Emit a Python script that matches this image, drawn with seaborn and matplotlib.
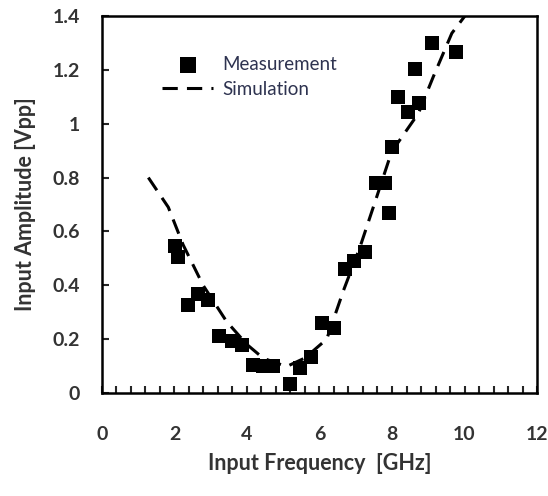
import numpy as np
import pandas as pd
import seaborn as sns
import matplotlib.pyplot as plt
from matplotlib.ticker import MultipleLocator, FuncFormatter

# Measured points
meas_freq = [2.01, 2.09, 2.38, 2.66, 2.93, 3.24, 3.60, 3.85, 4.17, 4.45, 4.73,
             5.19, 5.46, 5.76, 6.06, 6.40, 6.70, 6.96, 7.26, 7.56, 7.81, 7.93,
             7.99, 8.17, 8.45, 8.75, 8.63, 9.09, 9.77]
meas_amp = [0.547, 0.506, 0.327, 0.368, 0.345, 0.212, 0.194, 0.178, 0.104, 0.101, 0.101,
            0.033, 0.092, 0.135, 0.261, 0.240, 0.459, 0.490, 0.522, 0.781, 0.781, 0.667,
            0.915, 1.100, 1.045, 1.078, 1.202, 1.301, 1.268]

# Simulated curve
sim_freq = [1.28, 1.83, 2.24, 2.79, 3.44, 4.0, 4.45, 5.09, 5.6, 6.2, 6.66, 7.12,
            7.58, 7.99, 8.73, 9.14, 9.65, 10.01]
sim_amp = [0.80, 0.69, 0.55, 0.40, 0.265, 0.18, 0.129, 0.098, 0.13, 0.20, 0.38, 0.543,
           0.729, 0.896, 1.039, 1.175, 1.336, 1.40]

df_meas = pd.DataFrame({'freq': meas_freq, 'amp': meas_amp})
df_sim = pd.DataFrame({'freq': sim_freq, 'amp': sim_amp})

sns.set_style('white')
plt.rcParams['font.family'] = ['Lato', 'DejaVu Sans']

fig = plt.figure(figsize=(5.48, 4.96), dpi=100)
ax = fig.add_axes([0.186, 0.2077, 0.794, 0.76])

sns.lineplot(data=df_sim, x='freq', y='amp', ax=ax, color='black', linewidth=2.2,
             label='Simulation', sort=False, estimator=None)
ax.lines[0].set_dashes((5, 3))
sns.scatterplot(data=df_meas, x='freq', y='amp', ax=ax, marker='s', s=95,
                color='black', edgecolor='black', linewidth=0, label='Measurement',
                zorder=3)

ax.set_xlim(0, 12)
ax.set_ylim(0, 1.4)
ax.xaxis.set_major_locator(MultipleLocator(2))
ax.xaxis.set_minor_locator(MultipleLocator(0.4))
ax.yaxis.set_major_locator(MultipleLocator(0.2))
ax.yaxis.set_major_formatter(FuncFormatter(lambda v, p: '%g' % round(v, 1)))

for s in ax.spines.values():
    s.set_visible(True)
    s.set_color('black')
    s.set_linewidth(1.8)

ax.tick_params(axis='x', which='both', direction='in', length=5, width=1.5,
               bottom=True, top=False, pad=24, labelsize=14, labelcolor='#333333')
ax.tick_params(axis='y', which='major', direction='in', length=5, width=1.5,
               left=True, right=False, pad=16, labelsize=14, labelcolor='#333333')
for lab in ax.get_xticklabels() + ax.get_yticklabels():
    lab.set_fontweight('bold')

ax.set_xlabel('Input Frequency  [GHz]', fontsize=15.5, fontweight='bold',
              color='#333333', labelpad=7)
ax.set_ylabel('Input Amplitude [Vpp]', fontsize=15.5, fontweight='bold',
              color='#333333', labelpad=12)

handles, labels = ax.get_legend_handles_labels()
order = [labels.index('Measurement'), labels.index('Simulation')]
leg = ax.legend([handles[i] for i in order], [labels[i] for i in order],
                loc='upper left', bbox_to_anchor=(0.1, 0.94), frameon=False,
                fontsize=13.5, handlelength=2.7, handletextpad=0.5,
                labelspacing=0.45, labelcolor='#2e3350', markerscale=1.2)

fig.savefig('out.png', dpi=100)
